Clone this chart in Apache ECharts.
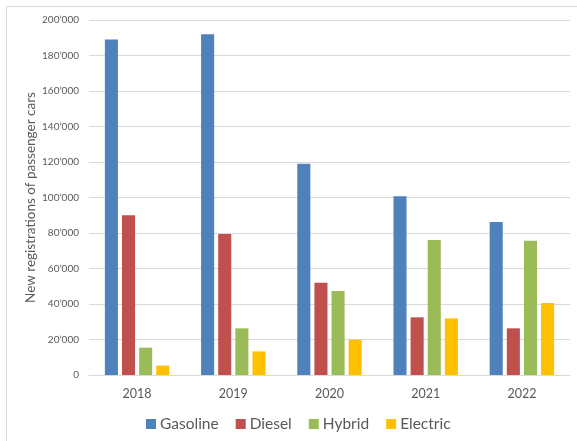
<!DOCTYPE html>
<html>
<head>
<meta charset="utf-8">
<script src="https://cdn.jsdelivr.net/npm/echarts@6/dist/echarts.min.js"></script>
<style>
html,body{margin:0;padding:0;background:#fff;}
#chart{width:577px;height:441px;}
</style>
</head>
<body>
<div id="chart"></div>
<script>
const years = ['2018', '2019', '2020', '2021', '2022'];
const gasoline = [189000, 192000, 119000, 100700, 86200];
const diesel = [90000, 79500, 52000, 32500, 26300];
const hybrid = [15400, 26300, 47300, 76000, 75700];
const electric = [5300, 13300, 19900, 31900, 40600];
const seriesNames = ['Gasoline', 'Diesel', 'Hybrid', 'Electric'];
const yAxisTitle = 'New registrations of passenger cars';

const colors = ['#4F81BD', '#C0504D', '#9BBB59', '#FFC000'];
const FONT = 'Lato';
const TXT = '#595959';

function fmt(v) {
  return String(v).replace(/\B(?=(\d{3})+(?!\d))/g, '\u2019');
}

const chart = echarts.init(document.getElementById('chart'), null, {renderer: 'canvas'});
const seriesData = [gasoline, diesel, hybrid, electric];
chart.setOption({
  animation: false,
  color: colors,
  graphic: [{
    type: 'rect',
    shape: {x: 6.5, y: 6.5, width: 700, height: 600},
    style: {fill: 'none', stroke: '#D9D9D9', lineWidth: 1},
    silent: true, z: -10
  }],
  grid: {left: 89, right: 7, top: 20, bottom: 66, containLabel: false},
  legend: {
    left: 141, top: 411,
    itemWidth: 10, itemHeight: 10, itemGap: 17,
    icon: 'rect',
    textStyle: {fontFamily: FONT, fontSize: 15.5, color: TXT, padding: [0, 0, 0, -1]},
    data: seriesNames
  },
  xAxis: {
    type: 'category',
    data: years,
    axisLine: {lineStyle: {color: '#D9D9D9', width: 1}},
    axisTick: {show: false},
    axisLabel: {fontFamily: FONT, fontSize: 12.5, color: TXT, margin: 12}
  },
  yAxis: {
    type: 'value',
    min: 0, max: 200000, interval: 20000,
    name: yAxisTitle,
    nameLocation: 'middle',
    nameGap: 51,
    nameMoveOverlap: false,
    nameRotate: 90,
    nameTextStyle: {fontFamily: FONT, fontSize: 13.5, color: TXT},
    axisLine: {show: false},
    axisTick: {show: false},
    splitLine: {lineStyle: {color: '#D9D9D9', width: 1}},
    axisLabel: {fontFamily: FONT, fontSize: 10, color: TXT, margin: 10, formatter: fmt}
  },
  series: seriesNames.map((n, i) => ({
    name: n,
    type: 'bar',
    data: seriesData[i],
    barGap: '31%',
    barCategoryGap: '33%'
  }))
});
</script>
</body>
</html>
